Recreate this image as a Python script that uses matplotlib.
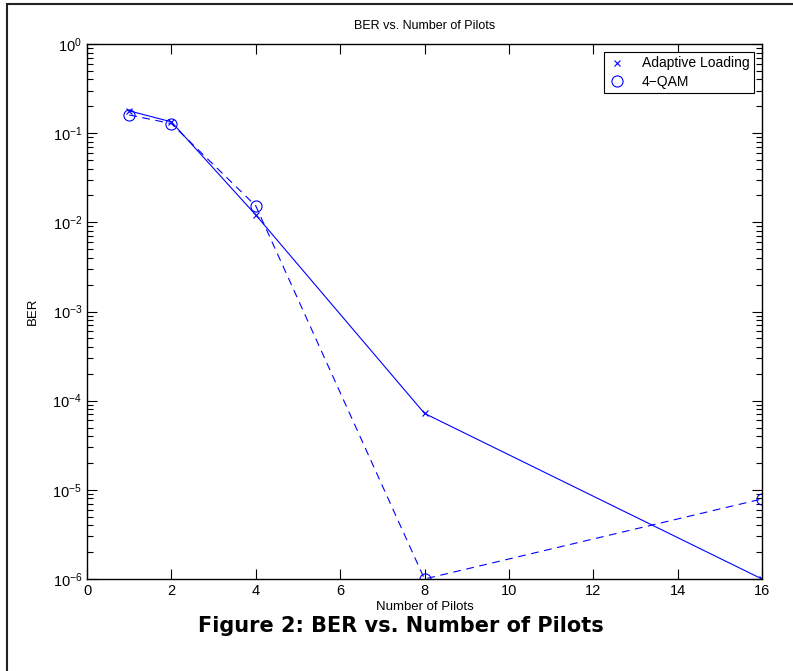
import matplotlib.pyplot as plt
from matplotlib.patches import Rectangle

# data
pilots = [1, 2, 4, 8, 16]
ber_adaptive = [0.178, 0.134, 0.0121, 7.2e-5, 1.0e-6]
ber_qam = [0.160, 0.128, 0.0153, 1.0e-6, 7.9e-6]

x_ticks = [0, 2, 4, 6, 8, 10, 12, 14, 16]

plt.rcParams["font.family"] = ["Liberation Sans", "DejaVu Sans"]
plt.rcParams["mathtext.fontset"] = "custom"
plt.rcParams["mathtext.rm"] = "Liberation Sans"

fig = plt.figure(figsize=(7.93, 6.71), dpi=100)

# outer frame of the figure (cut off at the right and bottom)
fig.patches.append(Rectangle((7 / 793, -0.1), 1.2, 1.1 - 4 / 671,
                             transform=fig.transFigure, fill=False,
                             edgecolor="#222222", linewidth=1.5))

ax = fig.add_axes([87 / 793, 1 - 579 / 671, (762 - 87) / 793, (579 - 44) / 671])

blue = "#0000ff"
ax.plot(pilots, ber_adaptive, color=blue, linestyle="-", linewidth=0.8,
        marker="x", markersize=5, markeredgewidth=0.8, label="Adaptive Loading")
ax.plot(pilots, ber_qam, color=blue, linestyle=(0, (7, 5)), linewidth=0.8,
        marker="o", markersize=8, markerfacecolor="none", markeredgewidth=0.8,
        label="4\u2212QAM")

ax.set_yscale("log")
ax.set_xlim(0, 16)
ax.set_ylim(1e-6, 1)
ax.set_xticks(x_ticks)
ax.set_yticks([1e-6, 1e-5, 1e-4, 1e-3, 1e-2, 1e-1, 1])

ax.tick_params(which="both", direction="in", top=True, right=True,
               labelsize=10.5, width=0.8)
ax.tick_params(which="major", length=7)
ax.tick_params(which="minor", length=4)
for spine in ax.spines.values():
    spine.set_linewidth(1.0)

ax.set_title("BER vs. Number of Pilots", fontsize=9, pad=11)
ax.set_xlabel("Number of Pilots", fontsize=9.5, labelpad=2)
ax.set_ylabel("BER", fontsize=9.5, labelpad=10)

leg = ax.legend(loc="upper right", fontsize=10, handlelength=1.2,
                fancybox=False, edgecolor="black", framealpha=1,
                borderaxespad=0.6, handletextpad=1.2, borderpad=0.3,
                labelspacing=0.3)
leg.get_frame().set_linewidth(0.8)
for line in leg.get_lines():
    line.set_linestyle("none")

fig.text(0.505, 1 - 626 / 671, "Figure 2: BER vs. Number of Pilots",
         ha="center", va="center", fontsize=15, fontweight="bold",
         family=["DejaVu Sans"])

fig.savefig("out.png", dpi=100)
